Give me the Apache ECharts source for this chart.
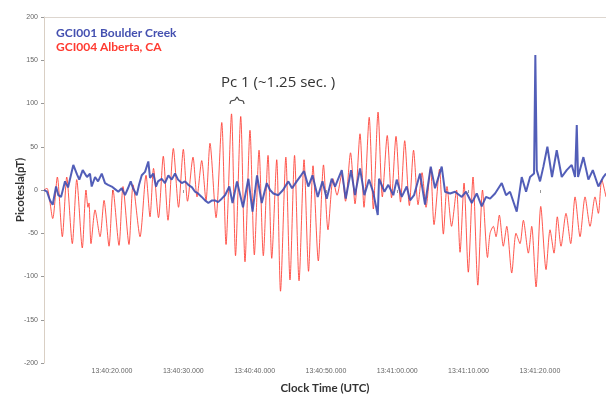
<!DOCTYPE html>
<html><head><meta charset="utf-8">
<script src="https://cdn.jsdelivr.net/npm/echarts@6/dist/echarts.min.js"></script>
<style>html,body{margin:0;padding:0;background:#fff}#c{width:606px;height:394px}</style>
</head><body><div id="c"></div>
<script>
// Time in seconds after 13:40:00 UTC
var xTickValues = [20, 30, 40, 50, 60, 70, 80];
var xTickLabels = ['13:40:20.000','13:40:30.000','13:40:40.000','13:40:50.000','13:41:00.000','13:41:10.000','13:41:20.000'];
var seriesNames = ['GCI001 Boulder Creek', 'GCI004 Alberta, CA'];

var redT = [10.46,10.88,11.68,12.33,13.03,13.65,14.43,15.05,15.83,16.35,16.63,16.77,17.05,17.62,18.32,18.88,19.58,20.14,20.98,21.54,22.38,22.95,23.93,24.77,25.33,25.82,26.52,27.19,27.85,28.60,29.33,30.00,30.59,31.36,31.92,32.58,33.18,33.74,34.59,35.39,35.99,36.76,37.32,38.05,38.65,39.35,39.96,40.62,41.22,41.88,42.40,43.10,43.63,44.38,44.96,45.60,46.23,46.93,47.56,48.19,48.93,49.66,50.29,51.00,51.56,52.22,52.75,53.45,54.08,54.78,55.34,56.07,56.65,57.31,57.91,58.60,59.20,59.83,60.46,61.05,61.70,62.29,62.92,63.48,64.04,64.67,65.16,65.93,66.47,66.98,67.62,68.32,68.81,69.37,69.97,70.63,71.30,71.96,72.66,73.02,73.48,73.86,74.32,74.88,75.36,76.06,76.66,77.22,77.69,78.39,78.86,79.47,80.13,80.87,81.43,81.99,82.45,82.97,83.67,84.33,84.94,85.64,86.34,87.04,87.74,88.21,88.68,89.28];
var redV = [0,2,-33,15,-54,15,-62,12,-67,0,-20,-15,-62,-23,-54,-12,-65,0,-64,4,-63,6,-54,17,-31,25,-32,39,-35,48,-20,47,-13,38,-8,34,-12,54,-32,78,-63,88,-76,85,-83,69,-75,46,-76,40,-79,35,-117,38,-104,40,-105,35,-94,28,-82,29,-46,13,-6,18,-13,43,-16,65,-20,84,-22,90,-8,63,-9,62,-14,57,-18,46,-17,20,-20,25,-40,24,-51,4,-42,0,-72,8,-95,15,-110,0,-78,-50,-42,-54,-29,-65,-42,-96,-50,-62,-35,-73,-42,-112,-19,-92,-46,-73,-31,-65,-27,-62,-8,-54,-8,-42,-8,-27,12,-8];

var blueT = [10.46,10.88,11.30,11.68,12.15,12.47,12.85,13.41,13.83,14.57,15.09,15.41,15.89,16.49,16.91,17.15,17.62,18.04,18.56,19.02,19.44,19.96,20.42,20.88,21.36,21.82,22.24,22.62,22.95,23.46,23.79,24.17,24.63,25.09,25.33,25.79,26.17,26.45,26.97,27.43,27.90,28.37,28.84,29.26,29.78,30.24,30.70,31.22,31.64,32.06,32.58,33.04,33.51,34.03,34.45,34.87,35.39,35.85,36.45,36.90,37.53,38.37,39.12,39.71,40.34,41.00,41.70,42.16,42.62,43.32,43.98,44.73,45.25,45.90,46.51,46.93,47.53,48.12,48.85,49.52,50.11,50.81,51.28,52.22,52.78,53.52,54.08,54.78,55.39,56.04,56.61,57.27,57.45,58.20,58.75,59.45,59.93,60.63,61.33,61.80,62.36,63.20,63.90,64.70,65.30,66.24,66.70,67.41,68.11,69.05,69.65,70.45,71.15,71.85,72.45,73.02,73.72,74.66,75.26,75.82,76.76,77.46,78.07,78.63,79.19,79.37,79.57,80.03,80.50,81.06,81.71,82.37,83.07,83.77,84.47,84.94,85.18,85.36,86.11,86.81,87.43,88.21,88.91,89.28];
var blueV = [0,-2,-12,-17,4,-6,-8,10,3,29,18,12,23,15,19,4,15,10,19,8,6,4,1,-2,2,-6,2,10,2,-6,6,17,21,33,14,19,4,10,13,8,17,12,19,12,8,10,6,3,-2,-4,-8,-12,-15,-12,-12,-14,-10,-6,4,-15,10,-20,13,-25,17,-15,8,0,-4,-6,0,10,2,10,17,22,4,17,-8,10,-10,13,4,23,-10,23,-6,25,-6,12,-2,-29,13,-2,6,-6,12,-8,4,-12,-6,19,-17,27,2,27,-2,-4,-2,-8,-2,-15,-4,-19,-8,-10,-4,8,-6,-2,-25,15,-2,15,19,156,23,10,27,50,15,46,15,23,29,15,75,15,38,12,23,4,15,19];

function pairs(t, v) { var out = []; for (var i = 0; i < t.length; i++) out.push([t[i], v[i]]); return out; }

var chart = echarts.init(document.getElementById('c'), null, {renderer: 'canvas'});
chart.setOption({
  animation: false,
  backgroundColor: '#ffffff',
  grid: {left: 44, right: 0, top: 17, bottom: 31, containLabel: false, outerBoundsMode: 'none'},
  legend: {
    left: 51, top: 22, orient: 'vertical', itemGap: 2, icon: 'none', itemWidth: 0, itemHeight: 0,
    selectedMode: false,
    textStyle: {fontFamily: 'Lato', fontWeight: 'bold', fontSize: 12, padding: [0,0,0,-5]},
    data: [
      {name: seriesNames[0], textStyle: {color: '#4450b0'}},
      {name: seriesNames[1], textStyle: {color: '#ff3a30'}}
    ]
  },
  xAxis: [{
    type: 'value', min: 10.46, max: 89.28,
    name: 'Clock Time (UTC)', nameLocation: 'middle', nameGap: 19,
    nameTextStyle: {fontFamily: 'Lato', fontWeight: 'bold', fontSize: 11.5, color: '#333'},
    axisLine: {show: false},
    axisTick: {show: true, length: 3, customValues: xTickValues, lineStyle: {color: '#999'}},
    axisLabel: {customValues: xTickValues, margin: 5, fontSize: 7, color: '#666', fontFamily: 'Liberation Sans',
      formatter: function (v) { var i = xTickValues.indexOf(Math.round(v)); return i >= 0 ? xTickLabels[i] : ''; }},
    splitLine: {show: false}
  }, {
    type: 'value', min: 10.46, max: 89.28, position: 'top',
    axisLine: {show: true, lineStyle: {color: '#ddd6cf', width: 1}},
    axisTick: {show: false}, axisLabel: {show: false}, splitLine: {show: false}
  }],
  yAxis: {
    type: 'value', min: -200, max: 200, interval: 50,
    name: 'Picotesla(pT)', nameLocation: 'middle', nameGap: 18, nameRotate: 90, nameMoveOverlap: false,
    nameTextStyle: {fontFamily: 'Lato', fontWeight: 'bold', fontSize: 11.5, color: '#333'},
    axisLine: {show: true, lineStyle: {color: '#d9cfc4', width: 1}},
    axisTick: {show: true, length: 3, lineStyle: {color: '#999'}},
    axisLabel: {margin: 6, fontSize: 7, color: '#666', fontFamily: 'Liberation Sans'},
    splitLine: {show: false}
  },
  series: [{
    name: seriesNames[1], type: 'line', xAxisIndex: 0, data: pairs(redT, redV),
    showSymbol: false, smooth: 0.25, silent: true,
    lineStyle: {color: '#ff3b30', width: 1, opacity: 0.85},
    itemStyle: {color: '#ff3b30'}
  }, {
    name: seriesNames[0], type: 'line', xAxisIndex: 0, data: pairs(blueT, blueV),
    showSymbol: false, smooth: false, silent: true,
    lineStyle: {color: '#3f4db0', width: 2, opacity: 0.9},
    itemStyle: {color: '#3f4db0'}
  }],
  graphic: [
    {type: 'text', x: 221, y: 75, style: {text: 'Pc 1 (~1.25 sec. )', font: '15px "Open Sans"', fill: '#333'}},
    {type: 'polyline', x: 230, y: 97, shape: {points: [[0,7],[1,4],[5,3],[7,0],[9,3],[13,4],[14,7]], smooth: 0.3},
     style: {stroke: '#444', fill: null, lineWidth: 1.2}}
  ]
});
</script>
</body></html>
